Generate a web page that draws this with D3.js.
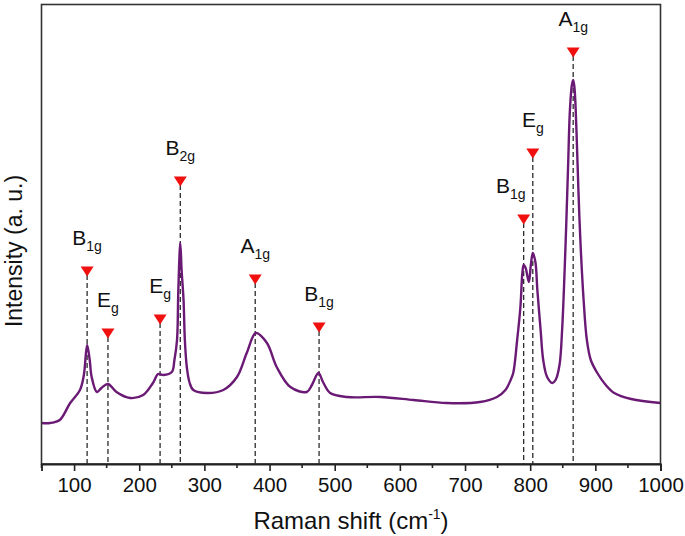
<!DOCTYPE html>
<html>
<head>
<meta charset="utf-8">
<script src="https://cdn.jsdelivr.net/npm/d3@7"></script>
<style>
  html, body { margin: 0; padding: 0; background: #fff; }
  svg { display: block; font-family: "Liberation Sans", Arial, sans-serif; }
</style>
</head>
<body>
<svg id="chart" width="685" height="536"></svg>
<script>
// ---- data ----
const ramanShift = [50, 63, 78, 94, 109, 115, 120, 124, 127, 135, 142, 152, 165, 186, 206, 221, 229, 237, 250, 254, 258, 260, 263, 265, 268, 270, 273, 277, 283, 304, 329, 350, 365, 379, 396, 411, 432, 457, 465, 475, 482, 493, 519, 570, 621, 672, 723, 749, 762, 770, 774, 780, 785, 788, 790, 793, 798, 801, 804, 808, 811, 816, 820, 826, 834, 839, 845, 849, 854, 858, 861, 864, 866, 868, 871, 874, 877, 882, 887, 893, 903, 916, 929, 955, 1000];
const intensity  = [41, 41, 44, 61, 74, 89, 119, 104, 87, 72, 76, 80, 72, 66, 69, 81, 90, 89, 92, 104, 124, 174, 221, 194, 164, 124, 97, 82, 74, 71, 74, 87, 111, 131, 121, 97, 77, 72, 79, 91, 82, 71, 67, 67, 64, 61, 62, 67, 74, 84, 91, 124, 157, 191, 199, 196, 182, 199, 211, 202, 174, 134, 104, 87, 81, 84, 99, 134, 214, 294, 354, 379, 384, 376, 334, 274, 224, 164, 124, 104, 91, 79, 71, 65, 61];

const peakPositions = [120, 152, 232, 263, 378, 476, 790, 804, 866];
const peakModes     = ["B", "E", "E", "B", "A", "B", "B", "E", "A"];
const peakSubs      = ["1g", "g", "g", "2g", "1g", "1g", "1g", "g", "1g"];
const markerLevels  = [193, 131, 145, 283, 185, 137, 245, 311, 412];

const xTicks = [100, 200, 300, 400, 500, 600, 700, 800, 900, 1000];
const xMinorTicks = [50, 150, 250, 350, 450, 550, 650, 750, 850, 950];
const xTitle = "Raman shift (cm";
const yTitle = "Intensity (a. u.)";

// ---- layout ----
const svg = d3.select("#chart");
const L = 41.5, R = 660.5, T = 4.5, B = 464;

const x = d3.scaleLinear().domain([50, 1000]).range([L, R]);
const y = d3.scaleLinear().domain([0, 459.5]).range([B, T]);

const spectrum = ramanShift.map((v, i) => ({ x: v, y: intensity[i] }));

const peaks = peakPositions.map((p, i) => ({
  pos: p, mode: peakModes[i], sub: peakSubs[i], level: markerLevels[i],
  crowded: i + 1 < peakPositions.length && peakPositions[i + 1] - p < 20
}));

// dashed peak lines
svg.append("g").selectAll("line").data(peaks).join("line")
  .attr("x1", d => x(d.pos)).attr("x2", d => x(d.pos))
  .attr("y1", d => y(d.level) + 4).attr("y2", B)
  .attr("stroke", "#2b2b2b").attr("stroke-width", 1.3)
  .attr("stroke-dasharray", "5,3");

// spectrum line
svg.append("path").datum(spectrum)
  .attr("fill", "none")
  .attr("stroke", "#6a1a74")
  .attr("stroke-width", 2.4)
  .attr("stroke-linejoin", "round")
  .attr("d", d3.line().x(d => x(d.x)).y(d => y(d.y)).curve(d3.curveCatmullRom.alpha(0.5)));

// triangles
svg.append("g").selectAll("path").data(peaks).join("path")
  .attr("d", d => {
    const cx = x(d.pos), cy = y(d.level);
    return `M${cx - 6.5},${cy - 4.5}L${cx + 6.5},${cy - 4.5}L${cx},${cy + 5.5}Z`;
  })
  .attr("fill", "#f01010");

// labels
const lab = svg.append("g").selectAll("text").data(peaks).join("text")
  .attr("x", d => x(d.pos) + (d.crowded ? 2 : 0))
  .attr("y", d => y(d.level) - 26)
  .attr("text-anchor", d => d.crowded ? "end" : "middle")
  .attr("font-size", 21)
  .attr("fill", "#111");
lab.append("tspan").text(d => d.mode);
lab.append("tspan").attr("font-size", 14).attr("dy", 6).text(d => d.sub);

// frame
svg.append("rect").attr("x", L).attr("y", T).attr("width", R - L).attr("height", B - T)
  .attr("fill", "none").attr("stroke", "#333").attr("stroke-width", 1.6);

// x axis
const xAxis = svg.append("g").attr("transform", `translate(0,${B})`)
  .call(d3.axisBottom(x).tickValues(xTicks).tickSize(7).tickPadding(6).tickFormat(d3.format("d")));
xAxis.select(".domain").attr("stroke", "#222").attr("stroke-width", 1.8);
xAxis.selectAll(".tick line").attr("stroke", "#222").attr("stroke-width", 1.6);
xAxis.selectAll("text").attr("font-size", 20.5).attr("fill", "#111")
  .attr("font-family", "Liberation Sans, Arial, sans-serif");

svg.append("g").selectAll("line").data(xMinorTicks).join("line")
  .attr("x1", d => x(d)).attr("x2", d => x(d))
  .attr("y1", B).attr("y2", B + 4)
  .attr("stroke", "#222").attr("stroke-width", 1.6);

// axis titles
const xt = svg.append("text").attr("x", (L + R) / 2).attr("y", 529)
  .attr("text-anchor", "middle").attr("font-size", 24).attr("fill", "#111");
xt.append("tspan").text(xTitle);
xt.append("tspan").attr("font-size", 14).attr("dy", -10).text("-1");
xt.append("tspan").attr("dy", 10).text(")");

svg.append("text")
  .attr("transform", `translate(22,251) rotate(-90)`)
  .attr("text-anchor", "middle").attr("font-size", 23).attr("fill", "#111")
  .text(yTitle);
</script>
</body>
</html>
